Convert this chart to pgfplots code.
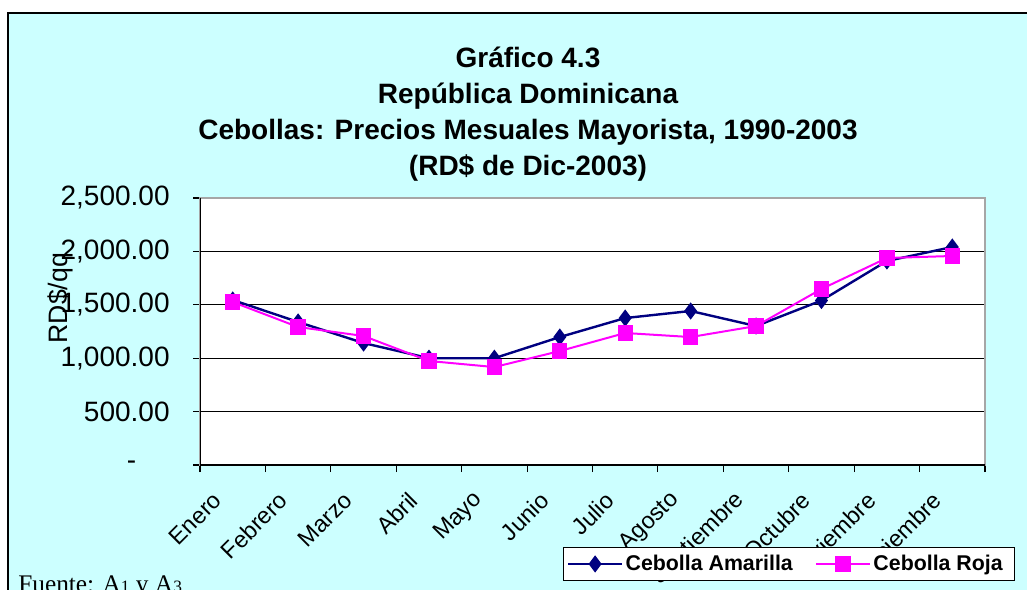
\documentclass[border=0pt]{standalone}
\usepackage{fontspec}
\setmainfont{Liberation Sans}
\newfontfamily\timesf{Liberation Serif}
\usepackage{pgfplots}
\pgfplotsset{compat=1.18}
\definecolor{bgcyan}{HTML}{CCFFFF}
\definecolor{navyc}{HTML}{000080}
\definecolor{magc}{HTML}{FF00FF}
\begin{document}
\begin{tikzpicture}[x=0.75pt,y=0.75pt]
\useasboundingbox (0,0) rectangle (1027,589);
\begin{scope}
\clip (0,0) rectangle (1027,589);
\fill[bgcyan] (8,-20) rectangle (1060,576);
\draw[black, line width=1pt] (8,-20) rectangle (1060,576);
\end{scope}
\node[align=center, font=\bfseries\fontsize{21}{27}\selectfont] at (528,475)
  {Gráfico 4.3\\República Dominicana\\Cebollas: Precios Mesuales Mayorista, 1990-2003\\(RD\$ de Dic-2003)};
\begin{axis}[
  at={(150pt,93pt)}, anchor=south west,
  width=588.75pt, height=200.25pt, scale only axis,
  xmin=-0.5, xmax=11.5, ymin=0, ymax=2500,
  axis background/.style={fill=white},
  axis line style={draw=gray!70, line width=1pt},
  tick pos=left,
  xtick={0,...,11},
  xticklabels={Enero,Febrero,Marzo,Abril,Mayo,Junio,Julio,Agosto,Septiembre,Octubre,Noviembre,Diciembre},
  major x tick style={draw=none},
  minor xtick={-0.5,0.5,...,11.5},
  ytick={0,500,...,2500},
  yticklabels={{-\hspace*{25pt}},{500.00},{1,000.00},{1,500.00},{2,000.00},{2,500.00}},
  tick align=outside,
  tick style={black, line width=0.8pt},
  major tick length=5.25pt, minor tick length=5.25pt,
  ymajorgrids, grid style={black, line width=0.8pt},
  yticklabel style={font=\fontsize{21}{21}\selectfont, xshift=-14pt},
  xticklabel style={font=\fontsize{17.5}{17.5}\selectfont, yshift=-16pt, xshift=-9pt, rotate=45, anchor=east},
  ylabel={RD\$/qq},
  ylabel style={at={(axis description cs:-0.178,0.625)}, anchor=center, font=\fontsize{20}{20}\selectfont},
  legend columns=2,
  legend style={at={(rel axis cs:0.4624,-0.307)}, anchor=north west, draw=black, fill=white,
    font=\bfseries\fontsize{16}{18}\selectfont, inner xsep=3pt, inner ysep=4pt,
    /tikz/every even column/.append style={column sep=15pt}},
  legend image code/.code={\draw[mark repeat=2,mark phase=2,#1] plot coordinates {(0pt,0pt) (20pt,0pt) (40pt,0pt)};},
]
\addplot[navyc, line width=1.8pt, mark=diamond*, mark size=5pt, mark options={solid, fill=navyc}]
  coordinates {(0,1545) (1,1339) (2,1142) (3,1000) (4,1000) (5,1198) (6,1376) (7,1442) (8,1301) (9,1540) (10,1910) (11,2041)};
\addlegendentry{Cebolla Amarilla}
\addplot[magc, line width=1.5pt, mark=square*, mark size=5pt, mark options={solid, fill=magc}]
  coordinates {(0,1526) (1,1292) (2,1208) (3,974) (4,917) (5,1067) (6,1236) (7,1198) (8,1301) (9,1648) (10,1938) (11,1957)};
\addlegendentry{Cebolla Roja\hspace*{4pt}}
\draw[black, line width=1pt] (rel axis cs:0,1) -- (rel axis cs:0,0) -- (rel axis cs:1,0);
\end{axis}
\node[anchor=base west, font=\timesf\fontsize{19}{20}\selectfont, inner sep=0] at (18,-3)
  {Fuente: A{\fontsize{13}{13}\selectfont 1} y A{\fontsize{13}{13}\selectfont 3}};
\end{tikzpicture}
\end{document}
